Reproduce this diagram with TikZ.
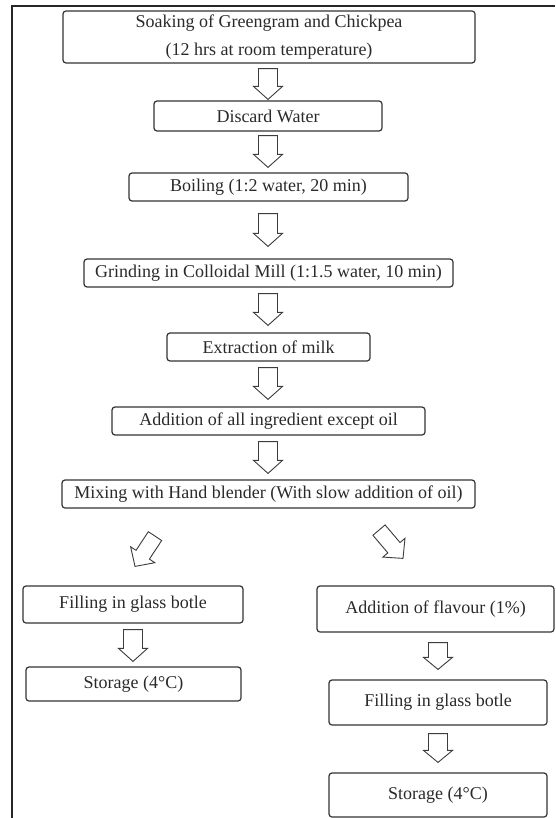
\documentclass[tikz,border=0pt]{standalone}
\usepackage{fontspec}
\setmainfont{Liberation Serif}
\usetikzlibrary{calc}
\definecolor{boxc}{HTML}{333333}
\definecolor{txtc}{HTML}{2A2A2A}
\definecolor{arrc}{HTML}{3C3C3C}
% #1 shaft half-width, #2 head half-width, #3 head length, #4 tail point, #5 tip point
\newcommand\blockarrow[5]{%
  \coordinate (ba) at (#4);
  \coordinate (bb) at (#5);
  \path let \p1=(ba), \p2=(bb),
            \n1={atan2(\y2-\y1,\x2-\x1)},
            \n2={veclen(\x2-\x1,\y2-\y1)} in
        \pgfextra{\xdef\bang{\n1}\xdef\blen{\n2}};
  \begin{scope}[shift={(ba)}, rotate=\bang]
    \draw[arr] (0pt,#1pt) -- ({(\blen-#3)*1pt},#1pt) -- ({(\blen-#3)*1pt},#2pt)
      -- ({\blen*1pt},0pt) -- ({(\blen-#3)*1pt},-#2pt) -- ({(\blen-#3)*1pt},-#1pt)
      -- (0pt,-#1pt) -- cycle;
  \end{scope}}
\begin{document}
\begin{tikzpicture}[x=1pt,y=-1pt,
  box/.style={draw=boxc, line width=1.2pt, rounded corners=3pt, inner sep=0pt,
    align=center, text=txtc, font=\fontsize{18}{28}\selectfont},
  arr/.style={draw=arrc, line width=0.9pt, fill=white, line join=miter},
  frameline/.style={draw=black!85, line width=1.2pt}]
\useasboundingbox (0,0) rectangle (555,818);

% frame
\coordinate (fl) at (12,818);
\coordinate (fc) at (12,6);
\coordinate (fr) at (555,6);
\draw[frameline] (fl) -- (fc) -- (fr);

% main column
\node[box, minimum width=412pt, minimum height=52pt] (soak) at (269,37)
  {Soaking of Greengram and Chickpea\\(12 hrs at room temperature)};
\node[box, minimum width=228pt, minimum height=30pt] (disc) at (268,116) {Discard Water};
\node[box, minimum width=279pt, minimum height=28pt] (boil) at (268.5,187) {Boiling (1:2 water, 20 min)};
\node[box, minimum width=369pt, minimum height=28pt] (grind) at (268.5,273) {Grinding in Colloidal Mill (1:1.5 water, 10 min)};
\node[box, minimum width=203pt, minimum height=28pt] (extr) at (268.5,347) {Extraction of milk};
\node[box, minimum width=313pt, minimum height=28pt] (addi) at (268.5,421) {Addition of all ingredient except oil};
\node[box, minimum width=413pt, minimum height=28pt] (mix) at (268.5,494) {Mixing with Hand blender (With slow addition of oil)};

% left branch
\node[box, minimum width=220pt, minimum height=37pt] (fillL) at (133,604.5) {Filling in glass botle};
\node[box, minimum width=215pt, minimum height=34pt] (storL) at (133.5,684) {Storage (4°C)};

% right branch
\node[box, minimum width=237pt, minimum height=46pt] (flav) at (435.5,609) {Addition of flavour (1\%)};
\node[box, minimum width=218pt, minimum height=45pt] (fillR) at (438,702.5) {Filling in glass botle};
\node[box, minimum width=218pt, minimum height=44pt] (storR) at (438,795) {Storage (4°C)};

% arrows
\blockarrow{9.5}{14.5}{13}{$(soak.south)+(-1,5)$}{$(disc.north)+(0,-1)$}
\blockarrow{9.5}{14.5}{13}{$(disc.south)+(0,4)$}{$(boil.north)+(-0.5,-5)$}
\blockarrow{9.5}{14.5}{13}{$(boil.south)+(-0.5,12)$}{$(grind.north)+(-0.5,-12)$}
\blockarrow{9.5}{14.5}{13}{$(grind.south)+(-0.5,6)$}{$(extr.north)+(-0.5,-7)$}
\blockarrow{9.5}{14.5}{13}{$(extr.south)+(-0.5,6)$}{$(addi.north)+(-0.5,-7)$}
\blockarrow{9.5}{14.5}{13}{$(addi.south)+(-0.5,6)$}{$(mix.north)+(-0.5,-6)$}
\blockarrow{8}{14.5}{14}{$(mix.south)+(-113.5,27.5)$}{$(fillL.north)+(2,-19)$}
\blockarrow{8}{14.5}{14}{$(mix.south)+(110.5,21.5)$}{$(flav.north)+(-32.5,-27)$}
\blockarrow{9.5}{14.5}{13}{$(fillL.south)+(0,6)$}{$(storL.north)+(-0.5,-5)$}
\blockarrow{9.5}{14.5}{12}{$(flav.south -| fillR.north)+(0,10)$}{$(fillR.north)+(0,-10)$}
\blockarrow{9.5}{14.5}{12}{$(fillR.south)+(0,8)$}{$(storR.north)+(0,-10)$}
\end{tikzpicture}
\end{document}
